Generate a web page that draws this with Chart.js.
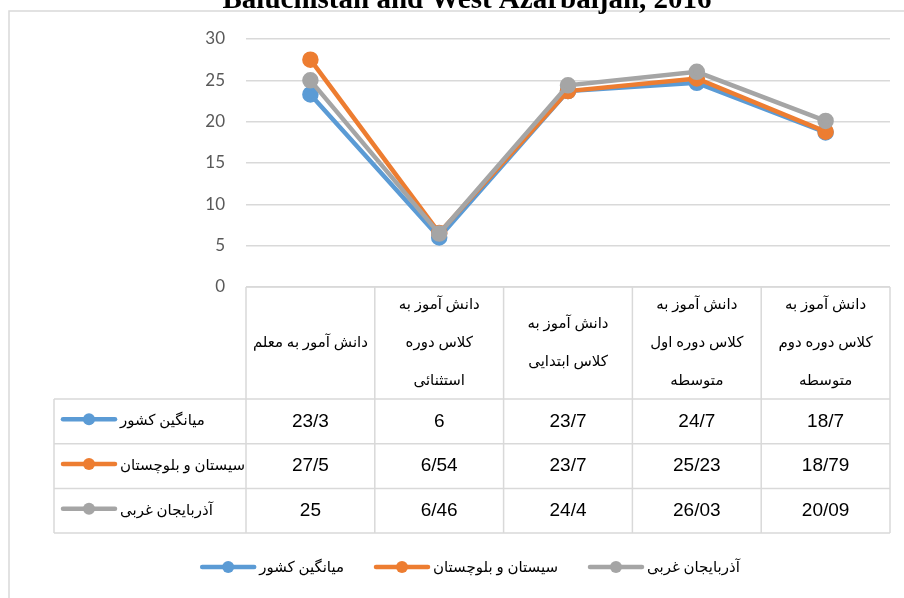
<!doctype html>
<html>
<head>
	<meta charset="utf-8">
	<title>Line chart with data table</title>
	<script src="https://cdn.jsdelivr.net/npm/chart.js@4.4.1/dist/chart.umd.min.js"></script>
	<style>
		body { margin: 0; background: #fff; }
		#holder { width: 904px; height: 598px; }
	</style>
</head>
<body>
	<div id="holder">
		<canvas id="chart-area" width="904" height="598"></canvas>
	</div>
	<script>
		// categories (one entry per column, split into the lines shown in the table header)
		var categories = [
			['دانش آمور به معلم'],
			['دانش آموز به', 'کلاس دوره', 'استثنائی'],
			['دانش آموز به', 'کلاس ابتدایی'],
			['دانش آموز به', 'کلاس دوره اول', 'متوسطه'],
			['دانش آموز به', 'کلاس دوره دوم', 'متوسطه']
		];
		var seriesNames = ['میانگین کشور', 'سیستان و بلوچستان', 'آذربایجان غربی'];
		var countryAvg = [23.3, 6, 23.7, 24.7, 18.7];
		var sistan = [27.5, 6.54, 23.7, 25.23, 18.79];
		var westAzar = [25, 6.46, 24.4, 26.03, 20.09];
		var yTicks = [0, 5, 10, 15, 20, 25, 30];
		var titleText = 'Baluchistan and West Azarbaijan, 2016';

		var colors = ['#5B9BD5', '#ED7D31', '#A5A5A5'];
		var series = [countryAvg, sistan, westAzar];
		var faFont = '"Liberation Serif", "DejaVu Sans", serif';
		var numFont = '"Liberation Sans Narrow", "Liberation Sans", sans-serif';
		var gridColor = '#d9d9d9';

		// persian decimal separator in the table
		function fmt(v) {
			return String(v).replace('.', '/');
		}

		function drawSymbol(ctx, x, y, len, color) {
			ctx.save();
			ctx.strokeStyle = color;
			ctx.fillStyle = color;
			ctx.lineWidth = 4.5;
			ctx.lineCap = 'round';
			ctx.beginPath();
			ctx.moveTo(x + 2, y);
			ctx.lineTo(x + len - 2, y);
			ctx.stroke();
			ctx.beginPath();
			ctx.arc(x + len / 2, y, 6, 0, Math.PI * 2);
			ctx.fill();
			ctx.restore();
		}

		var decorations = {
			id: 'decorations',
			beforeDraw: function(chart) {
				var ctx = chart.ctx;
				ctx.save();
				ctx.fillStyle = '#fff';
				ctx.fillRect(0, 0, chart.width, chart.height);
				// outer frame
				ctx.strokeStyle = gridColor;
				ctx.lineWidth = 1.5;
				ctx.strokeRect(9, 11, 1000, 700);
				// title, mostly cut off at the top
				ctx.fillStyle = '#000';
				ctx.font = 'bold 29px "Liberation Serif", serif';
				ctx.textAlign = 'center';
				ctx.textBaseline = 'alphabetic';
				ctx.fillText(titleText, 467, 8);
				ctx.restore();
			},
			afterDraw: function(chart) {
				var ctx = chart.ctx;
				var area = chart.chartArea;
				var xs = chart.scales.x;
				var colW = (area.right - area.left) / categories.length;
				var headTop = area.bottom;
				var headBot = 399;
				var rowH = 44.7;
				var tableLeft = 54;
				var tableBot = headBot + rowH * series.length;

				ctx.save();
				ctx.strokeStyle = gridColor;
				ctx.lineWidth = 1.5;
				ctx.beginPath();
				ctx.moveTo(area.left, headTop);
				ctx.lineTo(area.right, headTop);
				for (var r = 0; r <= series.length; r++) {
					var yy = headBot + rowH * r;
					ctx.moveTo(tableLeft, yy);
					ctx.lineTo(area.right, yy);
				}
				for (var c = 0; c <= categories.length; c++) {
					var xx = area.left + colW * c;
					ctx.moveTo(xx, headTop);
					ctx.lineTo(xx, tableBot);
				}
				ctx.moveTo(tableLeft, headBot);
				ctx.lineTo(tableLeft, tableBot);
				ctx.stroke();

				// header labels
				ctx.fillStyle = '#000';
				ctx.direction = 'rtl';
				ctx.textAlign = 'center';
				ctx.textBaseline = 'middle';
				ctx.font = '15px ' + faFont;
				var headMid = (headTop + headBot) / 2;
				categories.forEach(function(lines, i) {
					var cx = xs.getPixelForValue(i);
					var lh = 38;
					var y0 = headMid - (lines.length - 1) * lh / 2;
					lines.forEach(function(t, k) {
						ctx.fillText(t, cx, y0 + k * lh);
					});
				});

				// rows
				series.forEach(function(vals, r) {
					var cy = headBot + rowH * r + rowH / 2;
					drawSymbol(ctx, 61, cy - 2, 56, colors[r]);
					ctx.direction = 'rtl';
					ctx.textAlign = 'left';
					ctx.font = '15px ' + faFont;
					ctx.fillText(seriesNames[r], 120, cy);
					ctx.direction = 'ltr';
					ctx.textAlign = 'center';
					ctx.font = '19px ' + numFont;
					vals.forEach(function(v, i) {
						ctx.fillText(fmt(v), xs.getPixelForValue(i), cy);
					});
				});

				// legend
				var ly = 567;
				ctx.font = '15px ' + faFont;
				var widths = seriesNames.map(function(n) { return 56 + 3 + ctx.measureText(n).width; });
				var total = widths.reduce(function(a, b) { return a + b; }, 0) + 30 * (widths.length - 1);
				var lx = 470 - total / 2;
				seriesNames.forEach(function(n, i) {
					drawSymbol(ctx, lx, ly, 56, colors[i]);
					ctx.direction = 'rtl';
					ctx.textAlign = 'left';
					ctx.fillText(n, lx + 59, ly + 1);
					lx += widths[i] + 30;
				});
				ctx.restore();
			}
		};

		var config = {
			type: 'line',
			data: {
				labels: categories,
				datasets: series.map(function(vals, i) {
					return {
						label: seriesNames[i],
						data: vals,
						borderColor: colors[i],
						backgroundColor: colors[i],
						pointBackgroundColor: colors[i],
						pointBorderColor: colors[i],
						borderWidth: 4.5,
						pointRadius: 6,
						pointHoverRadius: 6,
						tension: 0,
						order: 3 - i
					};
				})
			},
			options: {
				responsive: false,
				animation: false,
				devicePixelRatio: 1,
				layout: {
					padding: { left: 0, right: 14, top: 39, bottom: 311 }
				},
				plugins: {
					legend: { display: false },
					title: { display: false },
					tooltip: { enabled: false }
				},
				scales: {
					x: {
						type: 'category',
						offset: true,
						display: false
					},
					y: {
						min: 0,
						max: 30,
						afterFit: function(scale) { scale.width = 246; },
						afterBuildTicks: function(scale) {
							scale.ticks = yTicks.map(function(v) { return { value: v }; });
						},
						border: { display: false },
						grid: { color: gridColor, lineWidth: 1.5, drawTicks: false },
						ticks: {
							color: '#595959',
							padding: 21,
							font: { family: 'Lato, "Open Sans", sans-serif', size: 17 }
						}
					}
				}
			},
			plugins: [decorations]
		};

		window.onload = function() {
			var ctx = document.getElementById('chart-area').getContext('2d');
			window.myLine = new Chart(ctx, config);
		};
	</script>
</body>
</html>
